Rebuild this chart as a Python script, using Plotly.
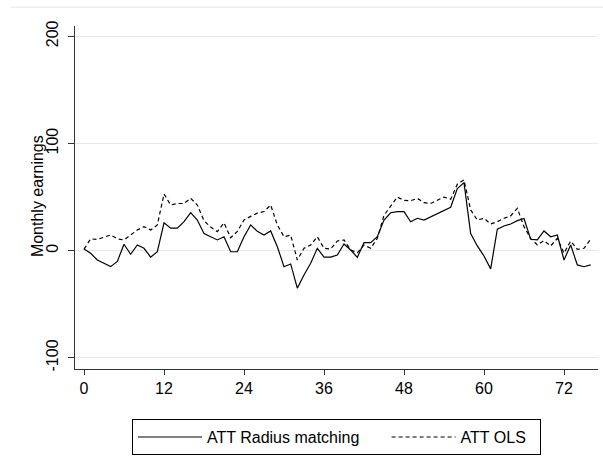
import plotly.graph_objects as go

months = list(range(77))
att_radius = [1.5, -2.5, -8.7, -11.8, -14.9, -10, 6, -3.4, 5.3, 2.2,
              -6, -1, 26, 21, 21, 27, 35.5, 28.6, 16, 13,
              10, 13, -1, -1, 13, 24, 18, 14.6, 18.4, 3.7,
              -15, -12.4, -35, -22.7, -11.8, 2.2, -6, -6, -4, 6.2,
              0.6, -6.2, 7.5, 7.5, 13, 28.6, 35.4, 36.4, 36.4, 27,
              30.2, 28.6, 31.7, 34.9, 37.4, 40.5, 58, 63.5, 16, 4.4,
              -5, -17, 20, 23, 24.9, 28, 30, 10.6, 10, 18.4,
              13, 14.6, -8.7, 5.3, -13.3, -15, -13.3]
att_ols = [1.5, 11, 10.5, 12.5, 14.6, 11, 10, 14.6, 19.3, 22.4,
           19.3, 24, 52.9, 42.6, 44, 44, 48.9, 42.6, 28, 22,
           17.8, 26, 12, 18, 28.6, 32, 35, 36.5, 42.6, 24,
           13, 14.6, -8.7, 2.2, 5.3, 13, 2.2, 1.5, 9, 10,
           0.7, -2, 5.3, 2.2, 11.5, 33, 41, 50, 47, 46.6,
           48.8, 44.8, 44, 47, 50, 48, 62, 66, 38, 28.6,
           30.2, 24.9, 27, 30.2, 32.4, 39.5, 22.4, 11.5, 5.3, 9.4,
           4.4, 11.5, -2.4, 9, 1.2, 2.2, 10.6]
x_ticks = [0, 12, 24, 36, 48, 60, 72]
y_ticks = [-100, 0, 100, 200]
y_tick_labels = ["-100", "0", "100", "200"]
series_names = ["ATT Radius matching", "ATT OLS"]

FONT = "Liberation Sans, Arial, sans-serif"
NB = "\u00a0"

fig = go.Figure()
fig.add_trace(go.Scatter(x=months, y=att_radius, mode="lines",
                         name=series_names[0] + NB * 5,
                         line=dict(color="black", width=1.2)))
fig.add_trace(go.Scatter(x=months, y=att_ols, mode="lines",
                         name=series_names[1] + NB * 2,
                         line=dict(color="black", width=1.2, dash="4px,3px")))

fig.update_layout(
    width=603, height=464,
    paper_bgcolor="white", plot_bgcolor="white",
    margin=dict(l=75, r=5, t=26, b=95),
    font=dict(family=FONT, size=16, color="black"),
    showlegend=True,
    legend=dict(orientation="h", x=0.5, xanchor="center", y=-0.146, yanchor="top",
                bordercolor="black", borderwidth=1, font=dict(size=16),
                itemwidth=64),
    xaxis=dict(range=[-1.35, 77.1], tickvals=x_ticks, ticks="outside", ticklen=5,
               tickcolor="#333", showline=True, linecolor="#333", linewidth=1,
               showgrid=False, zeroline=False, tickfont=dict(size=16)),
    yaxis=dict(range=[-110.4, 209.6], tickvals=y_ticks, ticktext=y_tick_labels,
               ticks="outside", ticklen=6,
               tickcolor="#333", showline=True, linecolor="#333", linewidth=1,
               showgrid=True, gridcolor="#e8e8e8", gridwidth=1, zeroline=False,
               tickangle=-90, tickfont=dict(size=16), ticklabelstandoff=4),
    annotations=[dict(text="Monthly earnings", xref="paper", yref="paper",
                      x=-0.0727, y=0.504, xanchor="center", yanchor="middle",
                      textangle=-90, showarrow=False, font=dict(size=16))],
    shapes=[dict(type="line", xref="paper", yref="paper", x0=-0.122, x1=1.01,
                 y0=1.055, y1=1.055, line=dict(color="#e4e4e4", width=1))],
)

fig.write_html("out.html", config={"displayModeBar": False},
               post_script="document.body.style.margin='0';document.body.style.overflow='hidden';")
